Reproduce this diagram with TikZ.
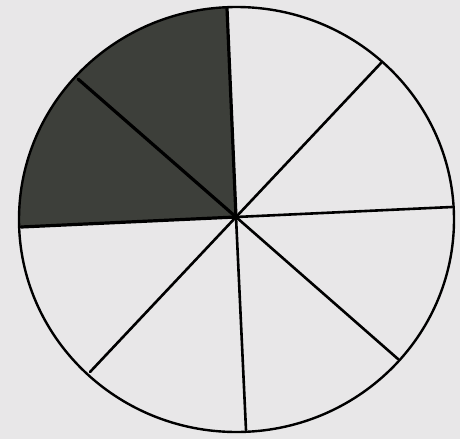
\documentclass[tikz,border=0pt]{standalone}
\definecolor{paper}{HTML}{E8E7E8}
\definecolor{darkfill}{HTML}{3D3F3A}
\begin{document}
\begin{tikzpicture}[x=1pt,y=-1pt,
  rim/.style={line width=2.4pt,black},
  spoke/.style={line width=2.6pt,black,line cap=round},
  bold/.style={line width=3.2pt,black,line cap=round}]
\fill[paper] (0,0) rectangle (460,439);
\useasboundingbox (0,0) rectangle (460,439);
\coordinate (O) at (236,217);
\coordinate (E) at (236.5,219.5);
\coordinate (T) at (227,8);
\coordinate (UR) at (381,63);
\coordinate (R) at (452,207);
\coordinate (LR) at (398,359);
\coordinate (B) at (246,430);
\coordinate (LL) at (90,372);
\coordinate (L) at (21,227);
\coordinate (UL) at (78,79);
\begin{scope}
  \clip (E) ellipse [x radius=217.5, y radius=212.5];
  \fill[darkfill] (O) -- (L) -- (0,227) -- (0,0) -- (227,0) -- (T) -- cycle;
\end{scope}
\draw[rim] (E) ellipse [x radius=217.5, y radius=212.5];
\draw[spoke] (O) -- (UR);
\draw[spoke] (O) -- (R);
\draw[spoke] (O) -- (LR);
\draw[spoke] (O) -- (B);
\draw[spoke] (O) -- (LL);
\draw[bold] (O) -- (T);
\draw[bold] (O) -- (L);
\draw[bold] (O) -- (UL);
\end{tikzpicture}
\end{document}
